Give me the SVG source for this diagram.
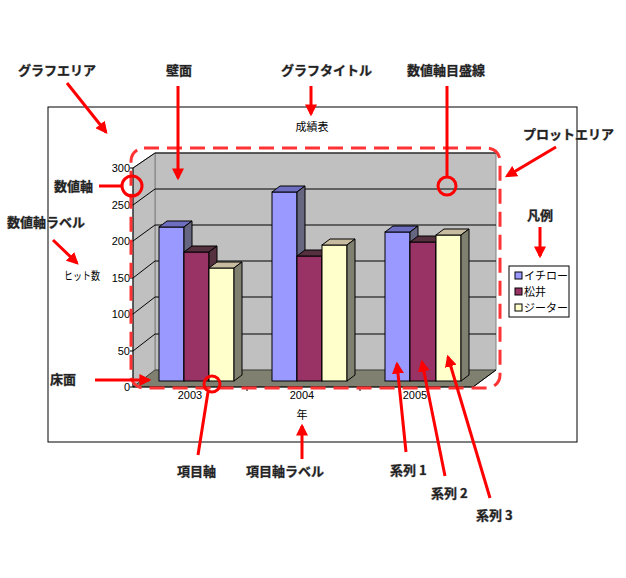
<svg xmlns="http://www.w3.org/2000/svg" width="626" height="578" viewBox="0 0 626 578">
<defs>
<style>
.t{font-family:"Liberation Sans","Noto Sans CJK JP",sans-serif;font-size:11px;fill:#000}
.lb{font-family:"Noto Sans CJK JP",sans-serif;font-size:13px;font-weight:bold;fill:#222;stroke:#999;stroke-width:0.6;paint-order:stroke}
.ar{stroke:#f00;stroke-width:3;fill:none}
.ck{fill:none;stroke:#f00;stroke-width:3}
.g{stroke:#000;stroke-width:1;fill:none}
.b{stroke:#000;stroke-width:1}
</style>
<marker id="ah" viewBox="0 0 10 10" refX="8" refY="5" markerWidth="4" markerHeight="4" orient="auto"><path d="M0,0L10,5L0,10z" fill="#f00"/></marker>
</defs>
<rect width="626" height="578" fill="#fff"/>
<g id="chart-area"><rect x="48" y="107" width="529" height="335" fill="#fff" stroke="#000"/></g>
<g id="title"><text class="t" x="312" y="131" text-anchor="middle">成績表</text></g>
<g id="walls">
<polygon points="155,153 496,153 496,370 155,370" fill="#c0c0c0" stroke="#808080"/>
<polygon points="133,168 155,153 155,370 133,387" fill="#c0c0c0" stroke="#808080"/>
<polygon points="133,387 473,387 496,370 155,370" fill="#808070" stroke="#000" stroke-width="0.5"/>
<g class="g">
<path d="M133,351L155,334H496M133,314L155,297H496M133,278L155,261H496M133,241L155,225H496M133,205L155,189H496M133,168L155,153H496"/>
<path d="M133,168V387H473L496,370M130,168H133M130,205H133M130,241H133M130,278H133M130,314H133M130,351H133M130,387H133M247,387V391M360,387V391"/>
</g>
</g>
<g id="axis-labels" class="t" text-anchor="end">
<text x="130" y="391">0</text><text x="130" y="355">50</text><text x="130" y="318">100</text><text x="130" y="282">150</text><text x="130" y="245">200</text><text x="130" y="209">250</text><text x="130" y="172">300</text>
</g>
<g id="cat-labels" class="t" text-anchor="middle"><text x="190" y="399">2003</text><text x="302" y="399">2004</text><text x="415" y="399">2005</text><text x="302" y="419">年</text></g>
<text class="t" x="64" y="280" textLength="36" lengthAdjust="spacingAndGlyphs" id="vlabel">ヒット数</text>
<g id="bars" class="b">
<g id="s1" fill="#9999ff"><rect x="159" y="227" width="25" height="154"/><rect x="272" y="192" width="25" height="189"/><rect x="385" y="232" width="25" height="149"/>
<path d="M159,227l8,-6h25l-8,6zM272,192l8,-6h25l-8,6zM385,232l8,-6h25l-8,6z" fill="#6e6ec0"/>
<path d="M184,227l8,-6v154l-8,6zM297,192l8,-6v189l-8,6zM410,232l8,-6v149l-8,6z" fill="#666680"/></g>
<g id="s2" fill="#993366"><rect x="184" y="252" width="25" height="129"/><rect x="297" y="256" width="25" height="125"/><rect x="410" y="242" width="26" height="139"/>
<path d="M184,252l8,-6h25l-8,6zM297,256l8,-6h25l-8,6zM410,242l8,-6h26l-8,6z" fill="#55303f"/>
<path d="M209,252l8,-6v129l-8,6zM322,256l8,-6v125l-8,6zM436,242l8,-6v139l-8,6z" fill="#55303f"/></g>
<g id="s3" fill="#ffffcc"><rect x="209" y="268" width="25" height="113"/><rect x="322" y="245" width="25" height="136"/><rect x="436" y="235" width="25" height="146"/>
<path d="M209,268l8,-6h25l-8,6zM322,245l8,-6h25l-8,6zM436,235l8,-6h25l-8,6z" fill="#c8bca0"/>
<path d="M234,268l8,-6v113l-8,6zM347,245l8,-6v136l-8,6zM461,235l8,-6v146l-8,6z" fill="#808070"/></g>
</g>
<g id="legend">
<rect x="509" y="266" width="60" height="51" fill="#fff" stroke="#000"/>
<rect x="515" y="272" width="7" height="7" fill="#9999ff" stroke="#000"/><text class="t" x="524" y="280">イチロー</text>
<rect x="515" y="288" width="7" height="7" fill="#993366" stroke="#000"/><text class="t" x="524" y="296">松井</text>
<rect x="515" y="304" width="7" height="7" fill="#ffffcc" stroke="#000"/><text class="t" x="524" y="312">ジーター</text>
</g>
<g id="plot-area-outline"><rect x="131" y="148" width="369" height="240" rx="13" fill="none" stroke="#f33" stroke-width="3" stroke-dasharray="15,8"/></g>
<g id="annotation-labels" class="lb">
<text x="18" y="75">グラフエリア</text><text x="166" y="75">壁面</text><text x="281" y="75">グラフタイトル</text><text x="407" y="75">数値軸目盛線</text>
<text x="523" y="139">プロットエリア</text><text x="54" y="191">数値軸</text><text x="7" y="227">数値軸ラベル</text><text x="527" y="220">凡例</text>
<text x="50" y="384">床面</text><text x="177" y="476">項目軸</text><text x="246" y="476">項目軸ラベル</text>
<text x="390" y="475">系列 1</text><text x="431" y="498">系列 2</text><text x="476" y="520">系列 3</text>
</g>
<g id="connectors">
<path class="ar" marker-end="url(#ah)" d="M67,83L106,132"/>
<path class="ar" marker-end="url(#ah)" d="M178,86V178"/>
<path class="ar" marker-end="url(#ah)" d="M311,86V114"/>
<path class="ar" d="M447,86V177"/><circle class="ck" cx="447" cy="186" r="9"/>
<path class="ar" marker-end="url(#ah)" d="M556,147L507,176"/>
<path class="ar" d="M99,186H122"/><circle class="ck" cx="132" cy="186" r="10"/>
<path class="ar" marker-end="url(#ah)" d="M53,240L77,263"/>
<path class="ar" marker-end="url(#ah)" d="M540,227V256"/>
<path class="ar" marker-end="url(#ah)" d="M95,380H149"/>
<circle class="ck" cx="212" cy="384" r="8"/><path class="ar" d="M208,392L198,455"/>
<path class="ar" marker-end="url(#ah)" d="M302,459V426"/>
<path class="ar" marker-end="url(#ah)" d="M406,452L397,364"/>
<path class="ar" marker-end="url(#ah)" d="M445,476L422,362"/>
<path class="ar" marker-end="url(#ah)" d="M490,498L448,357"/>
</g>
</svg>
